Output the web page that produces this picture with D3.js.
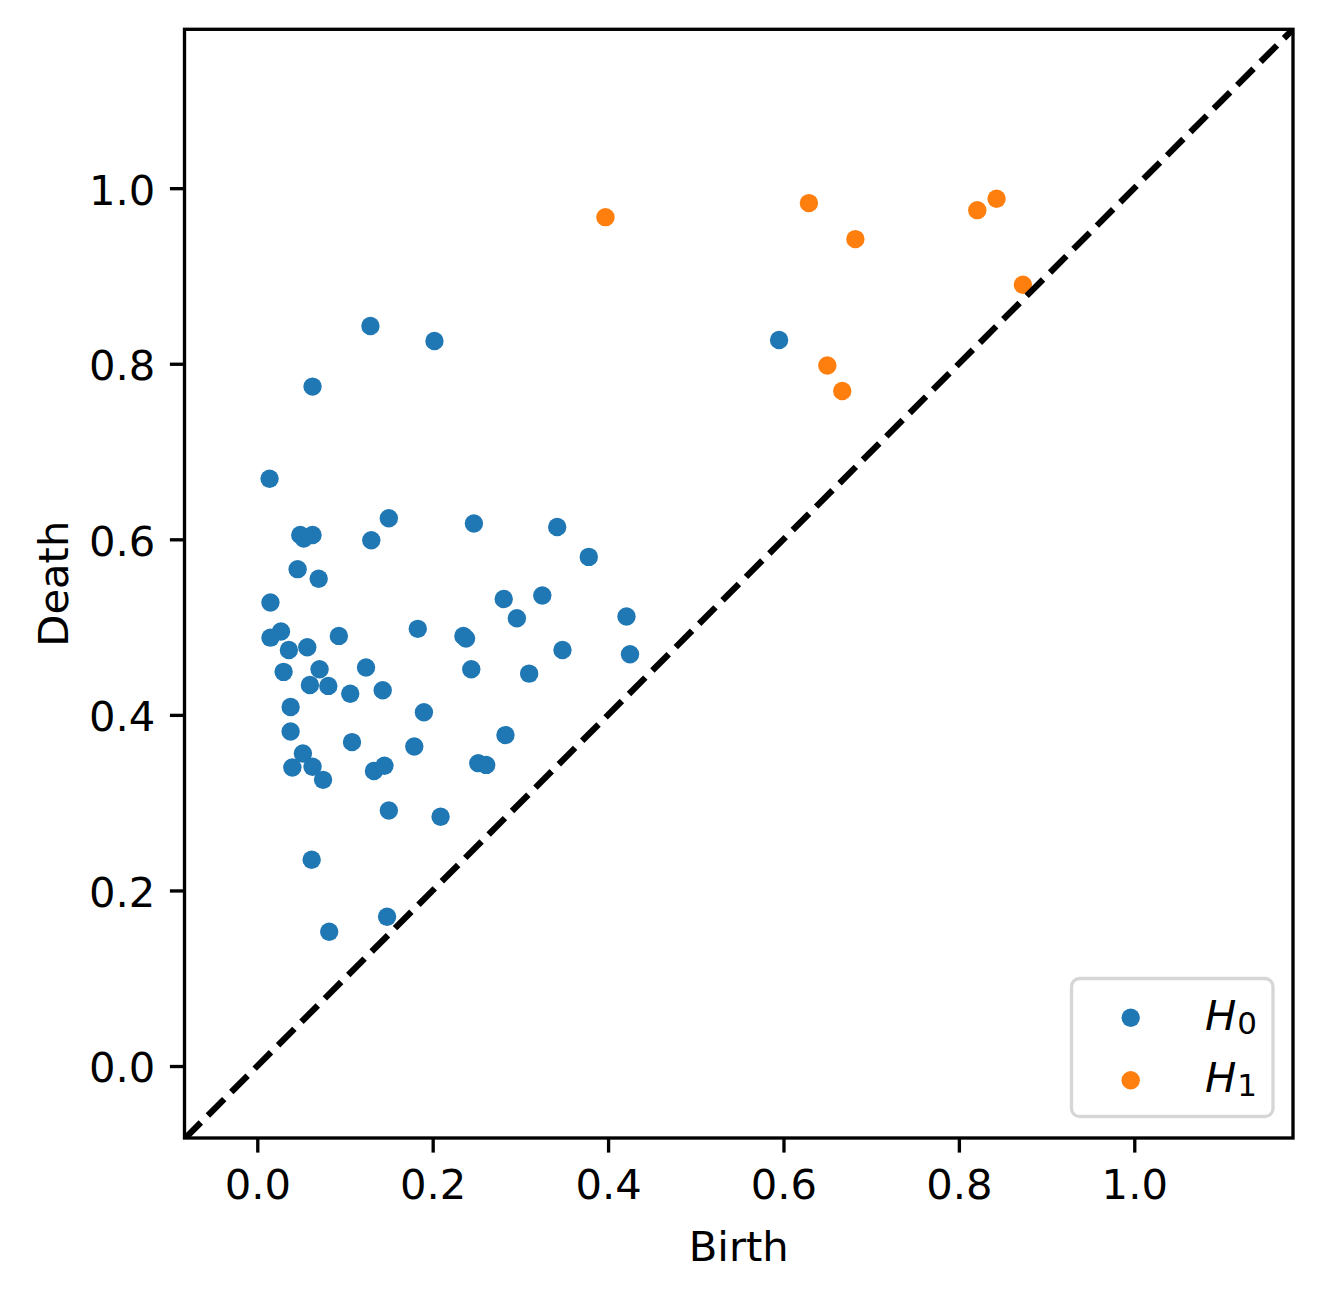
<!DOCTYPE html>
<html>
<head>
<meta charset="utf-8">
<script src="https://cdn.jsdelivr.net/npm/d3@7"></script>
<style>
  html, body { margin: 0; padding: 0; background: #fff; }
  svg { display: block; }
  text { font-family: "DejaVu Sans", sans-serif; }
</style>
</head>
<body>
<svg id="chart" width="1323" height="1298"></svg>
<script>
// ---- data ----
const h0Birth = [0.014,0.150,0.247,0.049,0.063,0.053,0.130,0.046,0.070,0.015,
  0.183,0.027,0.015,0.093,0.235,0.238,0.036,0.057,0.030,0.071,
  0.124,0.244,0.060,0.081,0.106,0.143,0.038,0.190,0.038,0.108,
  0.179,0.252,0.261,0.052,0.040,0.063,0.075,0.133,0.145,0.150,
  0.209,0.062,0.148,0.082,0.129,0.202,0.063,0.595,0.342,0.378,
  0.281,0.325,0.296,0.421,0.348,0.425,0.310,0.283];
const h0Death = [0.669,0.624,0.618,0.605,0.605,0.601,0.599,0.566,0.555,0.528,
  0.498,0.495,0.488,0.490,0.490,0.487,0.474,0.477,0.449,0.452,
  0.454,0.452,0.434,0.433,0.424,0.428,0.409,0.403,0.381,0.369,
  0.364,0.345,0.343,0.356,0.340,0.341,0.326,0.336,0.342,0.291,
  0.284,0.235,0.170,0.153,0.843,0.826,0.774,0.827,0.614,0.580,
  0.532,0.536,0.510,0.512,0.474,0.469,0.447,0.377];
const h1Birth = [0.397,0.629,0.682,0.821,0.843,0.873,0.650,0.667];
const h1Death = [0.967,0.983,0.942,0.975,0.988,0.890,0.798,0.769];
const tickValues = [0.0,0.2,0.4,0.6,0.8,1.0];
const seriesNames = ["0","1"];
const seriesColors = ["#1f77b4","#ff7f0e"];
const axisMin = -0.083, axisMax = 1.181;

// ---- layout ----
const L = 184.5, R = 1293, T = 29.3, B = 1138;
const FS = 41.7, LW = 3.33;
const svg = d3.select("#chart");

const x = d3.scaleLinear().domain([axisMin, axisMax]).range([L, R]);
const y = d3.scaleLinear().domain([-0.082, axisMax]).range([B, T]);

svg.append("defs").append("clipPath").attr("id","clip")
  .append("rect").attr("x",L).attr("y",T).attr("width",R-L).attr("height",B-T);

const plot = svg.append("g").attr("clip-path","url(#clip)");

// points
const h0 = h0Birth.map((b,i)=>({b, d:h0Death[i]}));
const h1 = h1Birth.map((b,i)=>({b, d:h1Death[i]}));
plot.selectAll("circle.h0").data(h0).enter().append("circle")
  .attr("class","h0").attr("cx",d=>x(d.b)).attr("cy",d=>y(d.d)).attr("r",9.2)
  .attr("fill",seriesColors[0]);
plot.selectAll("circle.h1").data(h1).enter().append("circle")
  .attr("class","h1").attr("cx",d=>x(d.b)).attr("cy",d=>y(d.d)).attr("r",9.2)
  .attr("fill",seriesColors[1]);

// diagonal
plot.append("line")
  .attr("x1",x(axisMin)).attr("y1",y(axisMin))
  .attr("x2",x(axisMax)).attr("y2",y(axisMax))
  .attr("stroke","#000").attr("stroke-width",6.25)
  .attr("stroke-dasharray","23.1,10");

// axes
const fmt = d3.format(".1f");
const gx = svg.append("g").attr("transform",`translate(0,${B})`)
  .call(d3.axisBottom(x).tickValues(tickValues).tickFormat(fmt).tickSize(14.6).tickPadding(16.8));
const gy = svg.append("g").attr("transform",`translate(${L},0)`)
  .call(d3.axisLeft(y).tickValues(tickValues).tickFormat(fmt).tickSize(14.6).tickPadding(14.6));
[gx, gy].forEach(g => {
  g.select(".domain").remove();
  g.selectAll(".tick line").attr("stroke","#000").attr("stroke-width",LW);
  g.selectAll(".tick text").attr("fill","#000")
    .style("font-family","'DejaVu Sans', sans-serif").style("font-size",FS+"px");
});
gy.selectAll(".tick text").attr("dy","0.38em");

// spines
svg.append("rect").attr("x",L).attr("y",T).attr("width",R-L).attr("height",B-T)
  .attr("fill","none").attr("stroke","#000").attr("stroke-width",LW);

// axis labels
svg.append("text").attr("x",(L+R)/2).attr("y",1261).attr("text-anchor","middle")
  .style("font-size",FS+"px").text("Birth");
svg.append("text").attr("transform",`translate(68,${(T+B)/2}) rotate(-90)`)
  .attr("text-anchor","middle").style("font-size",FS+"px").text("Death");

// legend
const lg = svg.append("g");
lg.append("rect").attr("x",1071.5).attr("y",978.5).attr("width",201.5).attr("height",138)
  .attr("rx",8).attr("ry",8).attr("fill","#fff").attr("fill-opacity",0.8)
  .attr("stroke","#d6d6d6").attr("stroke-width",3.3);
const legY = [1017.7, 1080.3];
seriesNames.forEach((s,i)=>{
  lg.append("circle").attr("cx",1130.7).attr("cy",legY[i]).attr("r",9.2).attr("fill",seriesColors[i]);
  const t = lg.append("text").attr("x",1205).attr("y",legY[i]+11.8)
    .style("font-size",FS+"px");
  t.append("tspan").style("font-style","italic").text("H");
  t.append("tspan").attr("dy",4).attr("dx",1).style("font-size","31px").text(s);
});
</script>
</body>
</html>
